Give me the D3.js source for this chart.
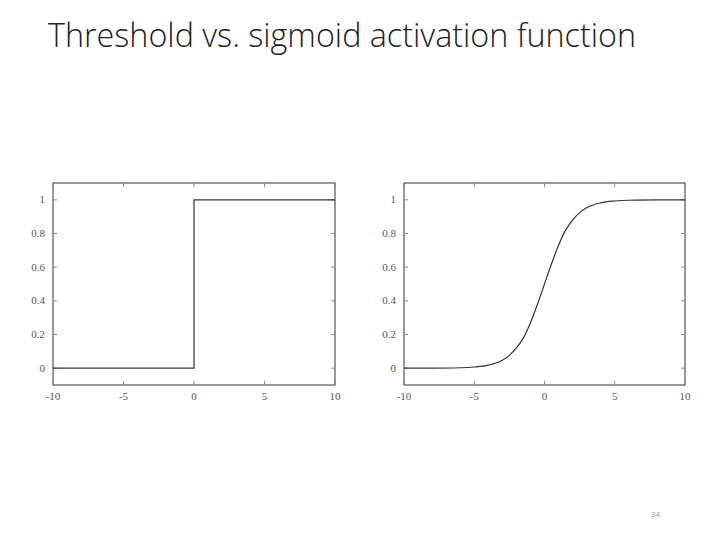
<!DOCTYPE html><html><head><meta charset="utf-8">
<script src="https://cdn.jsdelivr.net/npm/d3@7"></script>
<style>body{margin:0;background:#fff}</style></head><body>
<svg id="c" width="720" height="540"></svg>
<script>
const xTicks=[-10,-5,0,5,10];
const yTicks=[0,0.2,0.4,0.6,0.8,1];
const stepX=[-10,0,0,10];
const stepY=[0,0,1,1];
const sigX=[-10,-8,-6,-5,-4,-3,-2.5,-2,-1.5,-1,-0.5,0,0.5,1,1.5,2,2.5,3,4,5,6,8,10];
const sigY=[0,0.0003,0.0025,0.007,0.018,0.047,0.076,0.12,0.18,0.27,0.38,0.5,0.62,0.73,0.82,0.88,0.924,0.953,0.982,0.993,0.9975,0.9997,1];
const svg=d3.select("#c");
svg.append("text").attr("x",48).attr("y",47).attr("font-family","Open Sans, sans-serif").attr("font-weight",300)
 .attr("font-size",32.3).attr("fill","#222").text("Threshold vs. sigmoid activation function");
svg.append("text").attr("x",651).attr("y",517).attr("font-size",8).attr("fill","#999").attr("font-family","Open Sans").text("34");
function panel(x0,x1,xs,ys){
 const x=d3.scaleLinear().domain([-10,10]).range([x0,x1]);
 const y=d3.scaleLinear().domain([-0.1,1.1]).range([385,183]);
 const g=svg.append("g");
 g.append("rect").attr("x",x0).attr("y",183).attr("width",x1-x0).attr("height",202).attr("fill","none").attr("stroke","#333").attr("stroke-width",1);
 const f="Liberation Serif, serif";
 xTicks.forEach(t=>{
  g.append("line").attr("x1",x(t)).attr("x2",x(t)).attr("y1",385).attr("y2",381).attr("stroke","#888");
  g.append("line").attr("x1",x(t)).attr("x2",x(t)).attr("y1",183).attr("y2",187).attr("stroke","#888");
  g.append("text").attr("x",x(t)).attr("y",400).attr("text-anchor","middle").attr("font-family",f).attr("font-size",11).attr("fill","#555").text(t);
 });
 yTicks.forEach(t=>{
  g.append("line").attr("x1",x0).attr("x2",x0+4).attr("y1",y(t)).attr("y2",y(t)).attr("stroke","#888");
  g.append("line").attr("x1",x1).attr("x2",x1-4).attr("y1",y(t)).attr("y2",y(t)).attr("stroke","#888");
  g.append("text").attr("x",x0-8).attr("y",y(t)+3.5).attr("text-anchor","end").attr("font-family",f).attr("font-size",11).attr("fill","#555").text(t);
 });
 const line=d3.line().x(d=>x(d[0])).y(d=>y(d[1])).curve(d3.curveMonotoneX);
 g.append("path").attr("d",line(xs.map((v,i)=>[v,ys[i]]))).attr("fill","none").attr("stroke","#333").attr("stroke-width",1.2);
}
panel(53,335,stepX,stepY);
panel(404,685,sigX,sigY);
</script></body></html>
